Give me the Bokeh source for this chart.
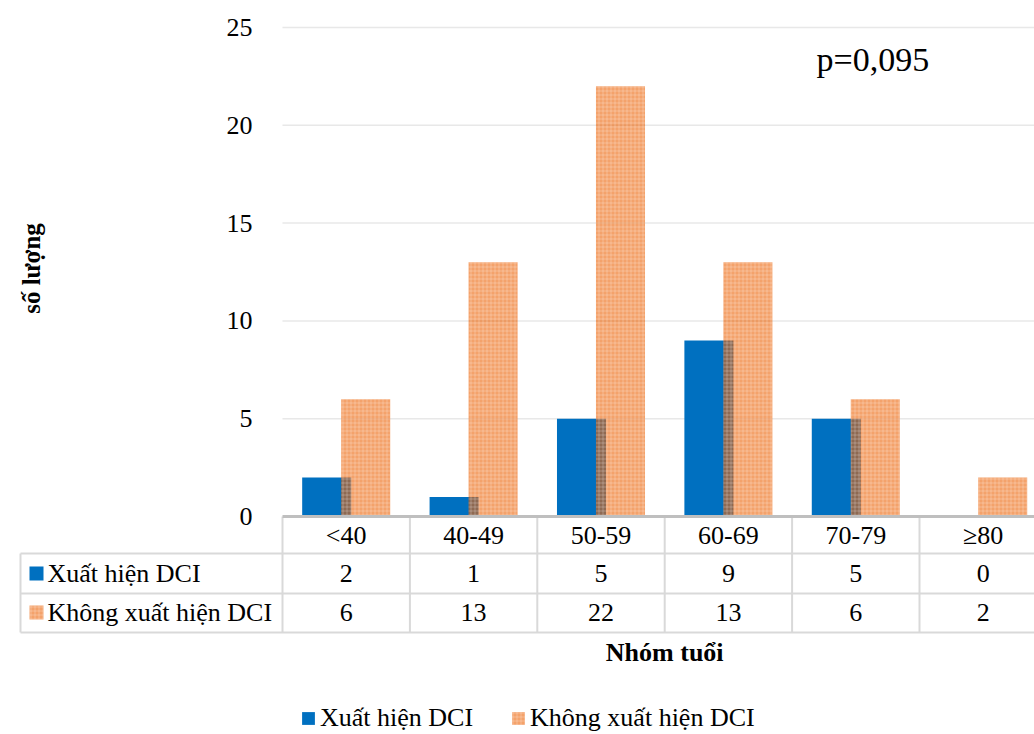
from bokeh.plotting import figure
from bokeh.models import Range1d, ColumnDataSource, Legend, LegendItem, FixedTicker
from bokeh.transform import dodge
from bokeh.embed import file_html
from bokeh.resources import INLINE

categories = ["<40", "40-49", "50-59", "60-69", "70-79", "\u226580"]
xuat_hien = [2, 1, 5, 9, 5, 0]
khong_xuat_hien = [6, 13, 22, 13, 6, 2]
y_ticks = [0, 5, 10, 15, 20, 25]
series_names = ["Xu\u1ea5t hi\u1ec7n DCI", "Kh\u00f4ng xu\u1ea5t hi\u1ec7n DCI"]
p_value_text = "p=0,095"
x_title = "Nh\u00f3m tu\u1ed5i"
y_title = "s\u1ed1 l\u01b0\u1ee3ng"

W, H = 1034, 734
PX = 127.4   # px per category
PY = 19.56   # px per unit of value
X0PX, Y0PX = 282, 516
FONT = "Liberation Serif"
BLUE = "#0070C0"
ORANGE = "#EC6408"


def dx(px):
    return (px - X0PX) / PX


def dy(py):
    return (Y0PX - py) / PY


p = figure(width=W, height=H, x_range=Range1d(dx(0), dx(W)), y_range=Range1d(dy(H), dy(0)),
           output_backend="svg", toolbar_location=None, min_border=0,
           outline_line_color=None)
p.xaxis.visible = False
p.xgrid.visible = False
p.ygrid.visible = False

ya = p.yaxis[0]
ya.fixed_location = 0
ya.ticker = FixedTicker(ticks=y_ticks)
ya.axis_line_color = None
ya.major_tick_line_color = None
ya.minor_tick_line_color = None
ya.major_label_standoff = 24
ya.major_label_text_font = FONT
ya.major_label_text_font_size = "26px"
ya.major_label_text_color = "black"

n = len(categories)
x_right = dx(W) + 0.2

# gridlines
gy = y_ticks[1:]
p.segment(x0=[0] * len(gy), x1=[x_right] * len(gy), y0=gy, y1=gy, line_color="#E8E8E8", line_width=1.5)

src = ColumnDataSource(dict(x=[i + 0.5 for i in range(n)], a=xuat_hien, b=khong_xuat_hien,
                            cat=categories))
r1 = p.vbar(x=dodge("x", -0.153, range=p.x_range), top="a", bottom=0, width=0.385, source=src,
            fill_color=BLUE, line_color=None)
r2 = p.vbar(x=dodge("x", 0.153, range=p.x_range), top="b", bottom=0, width=0.385, source=src,
            fill_color=ORANGE, fill_alpha=0.6, line_color=None,
            hatch_pattern="+", hatch_color="white", hatch_alpha=0.25, hatch_scale=4, hatch_weight=1)

# table
row_b = [dy(553), dy(593), dy(632)]
x_tab_left = dx(20)
grid_col = "#D9D9D9"
p.segment(x0=[x_tab_left] * 3, x1=[x_right] * 3, y0=row_b, y1=row_b, line_color=grid_col, line_width=2)
p.segment(x0=[x_tab_left], x1=[x_tab_left], y0=[row_b[0]], y1=[row_b[2]], line_color=grid_col, line_width=2)
vx = list(range(n))
p.segment(x0=vx, x1=vx, y0=[0] * n, y1=[row_b[2]] * n, line_color=grid_col, line_width=2)
# axis line
p.segment(x0=[0], x1=[x_right], y0=[0], y1=[0], line_color="#BFBFBF", line_width=3)

row_c = [dy(535), dy(573), dy(612)]
tstyle = dict(text_font_size="26px", text_color="black", text_align="center", text_baseline="middle")
p.text(x="x", y=row_c[0], text="cat", source=src, text_font={"value": FONT}, **tstyle)
p.text(x=[i + 0.5 for i in range(n)], y=[row_c[1]] * n, text=[str(v) for v in xuat_hien],
       text_font={"value": FONT}, **tstyle)
p.text(x=[i + 0.5 for i in range(n)], y=[row_c[2]] * n, text=[str(v) for v in khong_xuat_hien],
       text_font={"value": FONT}, **tstyle)

# table legend keys
p.scatter(x=[dx(36)], y=[row_c[1]], marker="square", size=14, fill_color=BLUE, line_color=None)
p.scatter(x=[dx(36)], y=[row_c[2]], marker="square", size=14, fill_color=ORANGE, fill_alpha=0.6,
          line_color=None, hatch_pattern="+", hatch_color="white", hatch_alpha=0.25, hatch_scale=4)
p.text(x=[dx(47)] * 2, y=row_c[1:], text=series_names, text_font={"value": FONT},
       text_font_size="26px", text_color="black", text_align="left", text_baseline="middle")

# titles
p.text(x=[n / 2], y=[dy(652)], text=[x_title], text_font={"value": FONT}, text_font_style="bold",
       text_font_size="26px", text_align="center", text_baseline="middle", text_color="black")
p.text(x=[dx(31)], y=[dy(268)], text=[y_title], text_font={"value": FONT}, text_font_style="bold",
       text_font_size="25px", text_align="center", text_baseline="middle", angle=1.5708,
       text_color="black")
p.text(x=[dx(816)], y=[dy(59)], text=[p_value_text], text_font={"value": FONT},
       text_font_size="34px", text_align="left", text_baseline="middle", text_color="black")

legend = Legend(items=[LegendItem(label=series_names[0], renderers=[r1]),
                       LegendItem(label=series_names[1], renderers=[r2])],
                orientation="horizontal", location=(300, 1), glyph_width=16, glyph_height=16,
                label_standoff=4, spacing=37, padding=0, margin=0, border_line_color=None,
                background_fill_alpha=0, label_text_font=FONT, label_text_font_size="26px",
                label_text_color="black")
p.add_layout(legend)

open("out.html", "w").write(file_html(p, INLINE))
